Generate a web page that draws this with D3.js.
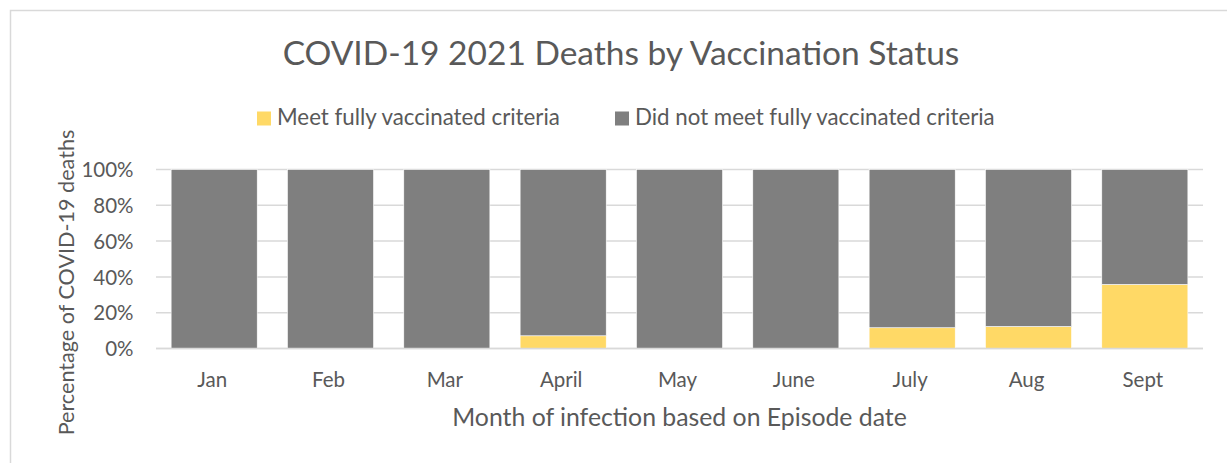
<!DOCTYPE html>
<html><head><meta charset="utf-8">
<script src="https://cdn.jsdelivr.net/npm/d3@7"></script>
<style>body{margin:0;background:#fff}svg{display:block}text{font-family:Lato,"Open Sans",sans-serif;fill:#595959}</style>
</head><body><svg id="c" width="1227" height="463"></svg>
<script>
const months = ["Jan","Feb","Mar","April","May","June","July","Aug","Sept"];
const vaccinated = [0, 0, 0, 7.1, 0, 0, 11.6, 12.3, 35.8];
const notVaccinated = [100, 100, 100, 92.9, 100, 100, 88.4, 87.7, 64.2];
const yTicks = [0, 20, 40, 60, 80, 100];
const seriesNames = ["Meet fully vaccinated criteria", "Did not meet fully vaccinated criteria"];
const colors = ["#ffd966", "#7f7f7f"];

const svg = d3.select("#c");
svg.append("rect").attr("x",10.5).attr("y",10.5).attr("width",1240).attr("height",470)
  .attr("fill","#fff").attr("stroke","#d9d9d9").attr("stroke-width",1.5);

const m = {l:156, r:1203, t:169.5, b:348.5};
const x = d3.scaleBand().domain(months).range([m.l, m.r]).paddingInner(0.26).paddingOuter(0.13);
const y = d3.scaleLinear().domain([0,100]).range([m.b, m.t]);

svg.append("g").selectAll("line").data(yTicks).join("line")
  .attr("x1",m.l).attr("x2",m.r).attr("y1",d=>y(d)).attr("y2",d=>y(d))
  .attr("stroke","#d9d9d9").attr("stroke-width",1.5);

const data = months.map((mo,i)=>({month:mo, v:vaccinated[i], n:notVaccinated[i]}));
const stack = d3.stack().keys(["v","n"])(data);
svg.append("g").selectAll("g").data(stack).join("g").attr("fill",(d,i)=>colors[i])
  .selectAll("rect").data(d=>d).join("rect")
  .attr("x",d=>x(d.data.month)).attr("width",x.bandwidth())
  .attr("y",d=>y(d[1])).attr("height",d=>Math.max(0,y(d[0])-y(d[1])))
  .attr("stroke","#fff").attr("stroke-width",0.6);

svg.append("line").attr("x1",m.l).attr("x2",m.r).attr("y1",y(0)).attr("y2",y(0))
  .attr("stroke","#d9d9d9").attr("stroke-width",1.5);

const yAxis = d3.axisLeft(y).tickValues(yTicks).tickFormat(d=>d+"%").tickSize(0).tickPadding(0);
const ga = svg.append("g").attr("transform",`translate(133.5,0)`).call(yAxis);
ga.select(".domain").remove();
ga.selectAll("text").attr("font-size",20.5).attr("font-family","Lato").attr("fill","#595959").attr("dy","0.35em");

const xAxis = d3.axisBottom(x).tickSize(0).tickPadding(0);
const gx = svg.append("g").attr("transform",`translate(-2,380)`).call(xAxis);
gx.select(".domain").remove();
gx.selectAll("text").attr("font-size",20.5).attr("font-family","Lato").attr("fill","#595959").attr("dy","0.35em");

svg.append("text").attr("x",621).attr("y",65).attr("text-anchor","middle").attr("font-size",33.5)
  .text("COVID-19 2021 Deaths by Vaccination Status");

svg.append("text").attr("x",679.5).attr("y",426).attr("text-anchor","middle").attr("font-size",24.8)
  .text("Month of infection based on Episode date");

svg.append("text").attr("transform","translate(74,282.5) rotate(-90)").attr("text-anchor","middle").attr("font-size",21.6)
  .text("Percentage of COVID-19 deaths");

const legX = [257, 615];
const lg = svg.append("g").selectAll("g").data(seriesNames).join("g")
  .attr("transform",(d,i)=>`translate(${legX[i]},111.5)`);
lg.append("rect").attr("width",14).attr("height",14).attr("fill",(d,i)=>colors[i]);
lg.append("text").attr("x",20).attr("y",13).attr("font-size",22.3).text(d=>d);
</script></body></html>
